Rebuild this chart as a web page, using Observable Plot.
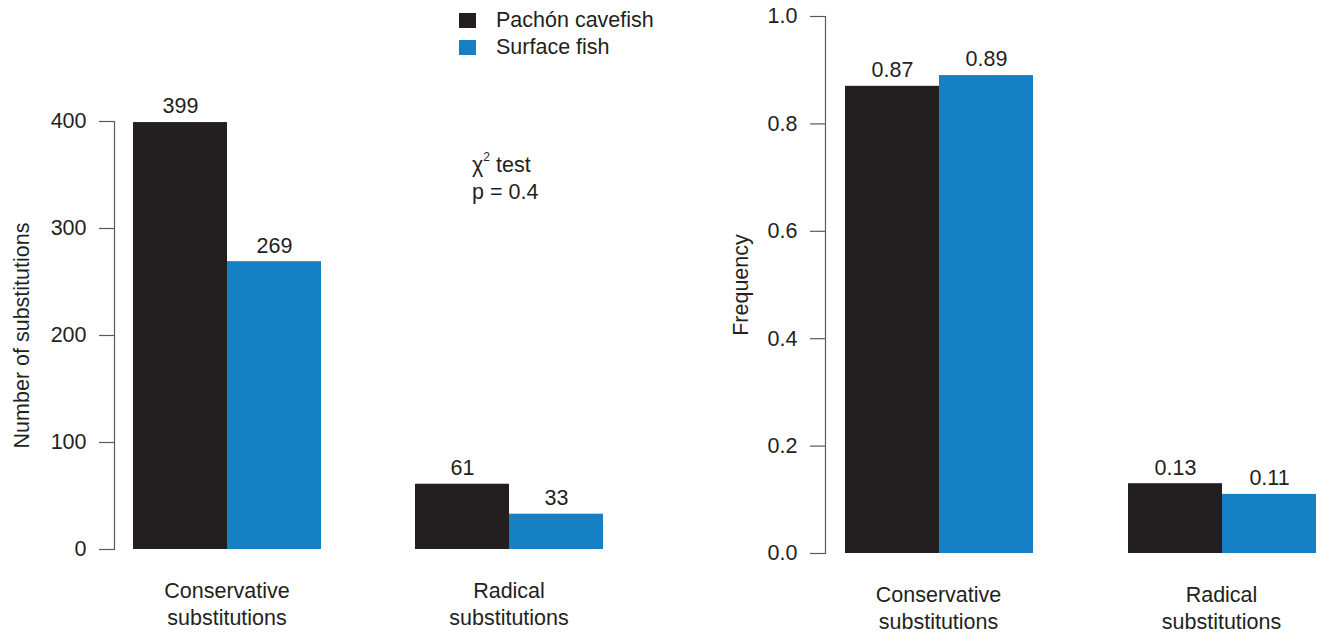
<!DOCTYPE html>
<html>
<head>
<meta charset="utf-8">
<script src="https://cdn.jsdelivr.net/npm/d3@7"></script>
<script src="https://cdn.jsdelivr.net/npm/@observablehq/plot@0.6"></script>
<style>
  html, body { margin: 0; padding: 0; background: #fff; overflow: hidden; }
  #wrap { position: relative; width: 1322px; height: 642px; font-family: "Liberation Sans", Arial, Helvetica, sans-serif; color: #231f20; }
  .panel { position: absolute; top: 0; }
  .legend { position: absolute; left: 459px; top: 7px; font-size: 21.5px; }
  .legend .row { display: flex; align-items: center; height: 27px; }
  .legend .sw { width: 17px; height: 15px; margin-right: 20px; }
  .note { position: absolute; left: 472px; top: 147px; font-size: 21.5px; line-height: 27px; }
  .note sup { font-size: 12px; position: relative; top: -3px; }
</style>
</head>
<body>
<div id="wrap">
  <div id="left" class="panel" style="left:0"></div>
  <div id="right" class="panel" style="left:661px"></div>
  <div class="legend" id="legend"></div>
  <div class="note">χ<sup>2</sup> test<br>p = 0.4</div>
</div>
<script>
// ---- data ----
const categories = ["Conservative\nsubstitutions", "Radical\nsubstitutions"];
const series = ["Pachón cavefish", "Surface fish"];
const seriesColors = ["#231f20", "#1581c4"];
const cavefishCounts = [399, 61];
const surfaceCounts = [269, 33];
const cavefishFreq = [0.87, 0.13];
const surfaceFreq = [0.89, 0.11];
const countTicks = [0, 100, 200, 300, 400];
const freqTicks = [0, 0.2, 0.4, 0.6, 0.8, 1.0];

function rowsOf(a, b) {
  const rows = [];
  categories.forEach((c, i) => {
    rows.push({category: c, series: series[0], value: a[i]});
    rows.push({category: c, series: series[1], value: b[i]});
  });
  return rows;
}
const countRows = rowsOf(cavefishCounts, surfaceCounts);
const freqRows = rowsOf(cavefishFreq, surfaceFreq);

const axisColor = "#5a5a5a";
const font = "'Liberation Sans', Arial, Helvetica, sans-serif";
const FS = 21.5;

function panel({rows, ticks, domain, label, fmt, valFmt, marginLeft, marginRight, marginTop, marginBottom, step, inset, labelOffset, catDy}) {
  return Plot.plot({
    width: 661, height: 642,
    marginLeft, marginRight, marginTop, marginBottom,
    style: {fontFamily: font, fontSize: FS + "px", color: "#231f20", background: "transparent", overflow: "visible"},
    fx: {domain: categories, paddingInner: 75 / step, paddingOuter: 0, axis: null, label: null},
    x: {domain: series, padding: 0, insetLeft: inset, axis: null},
    y: {domain, axis: null},
    color: {domain: series, range: seriesColors},
    marks: [
      Plot.frame({anchor: "left", facetAnchor: "left", stroke: axisColor, strokeWidth: 1.2}),
      Plot.axisY({ticks, tickFormat: fmt, tickSize: 15, tickPadding: 13, fontSize: FS, stroke: axisColor, strokeWidth: 1.2,
        label, labelAnchor: "center", labelOffset, labelArrow: "none"}),
      Plot.barY(rows, {fx: "category", x: "series", y: "value", fill: "series"}),
      Plot.text(rows, {fx: "category", x: "series", y: "value", text: d => valFmt(d.value), dy: -16, lineAnchor: "middle", fontSize: FS, fill: "#231f20"}),
      Plot.text(categories, {fx: d => d, text: d => d, frameAnchor: "bottom", lineAnchor: "top", dy: catDy, dx: 9, fontSize: FS, lineHeight: 1.26, fill: "#231f20"})
    ]
  });
}

document.getElementById("left").append(panel({
  rows: countRows, ticks: countTicks, domain: [0, 400], label: "Number of substitutions",
  fmt: d3.format("d"), valFmt: d => String(d),
  marginLeft: 114, marginRight: 58, marginTop: 121, marginBottom: 93, step: 282, inset: 19, labelOffset: 101, catDy: 29
}));
document.getElementById("right").append(panel({
  rows: freqRows, ticks: freqTicks, domain: [0, 1], label: "Frequency",
  fmt: d3.format(".1f"), valFmt: d => d.toFixed(2),
  marginLeft: 164, marginRight: 6, marginTop: 16, marginBottom: 89, step: 283, inset: 20, labelOffset: 93, catDy: 29
}));

const legend = document.getElementById("legend");
series.forEach((s, i) => {
  const row = document.createElement("div");
  row.className = "row";
  const sw = document.createElement("div");
  sw.className = "sw";
  sw.style.background = seriesColors[i];
  const t = document.createElement("span");
  t.textContent = s;
  row.append(sw, t);
  legend.append(row);
});
</script>
</body>
</html>
